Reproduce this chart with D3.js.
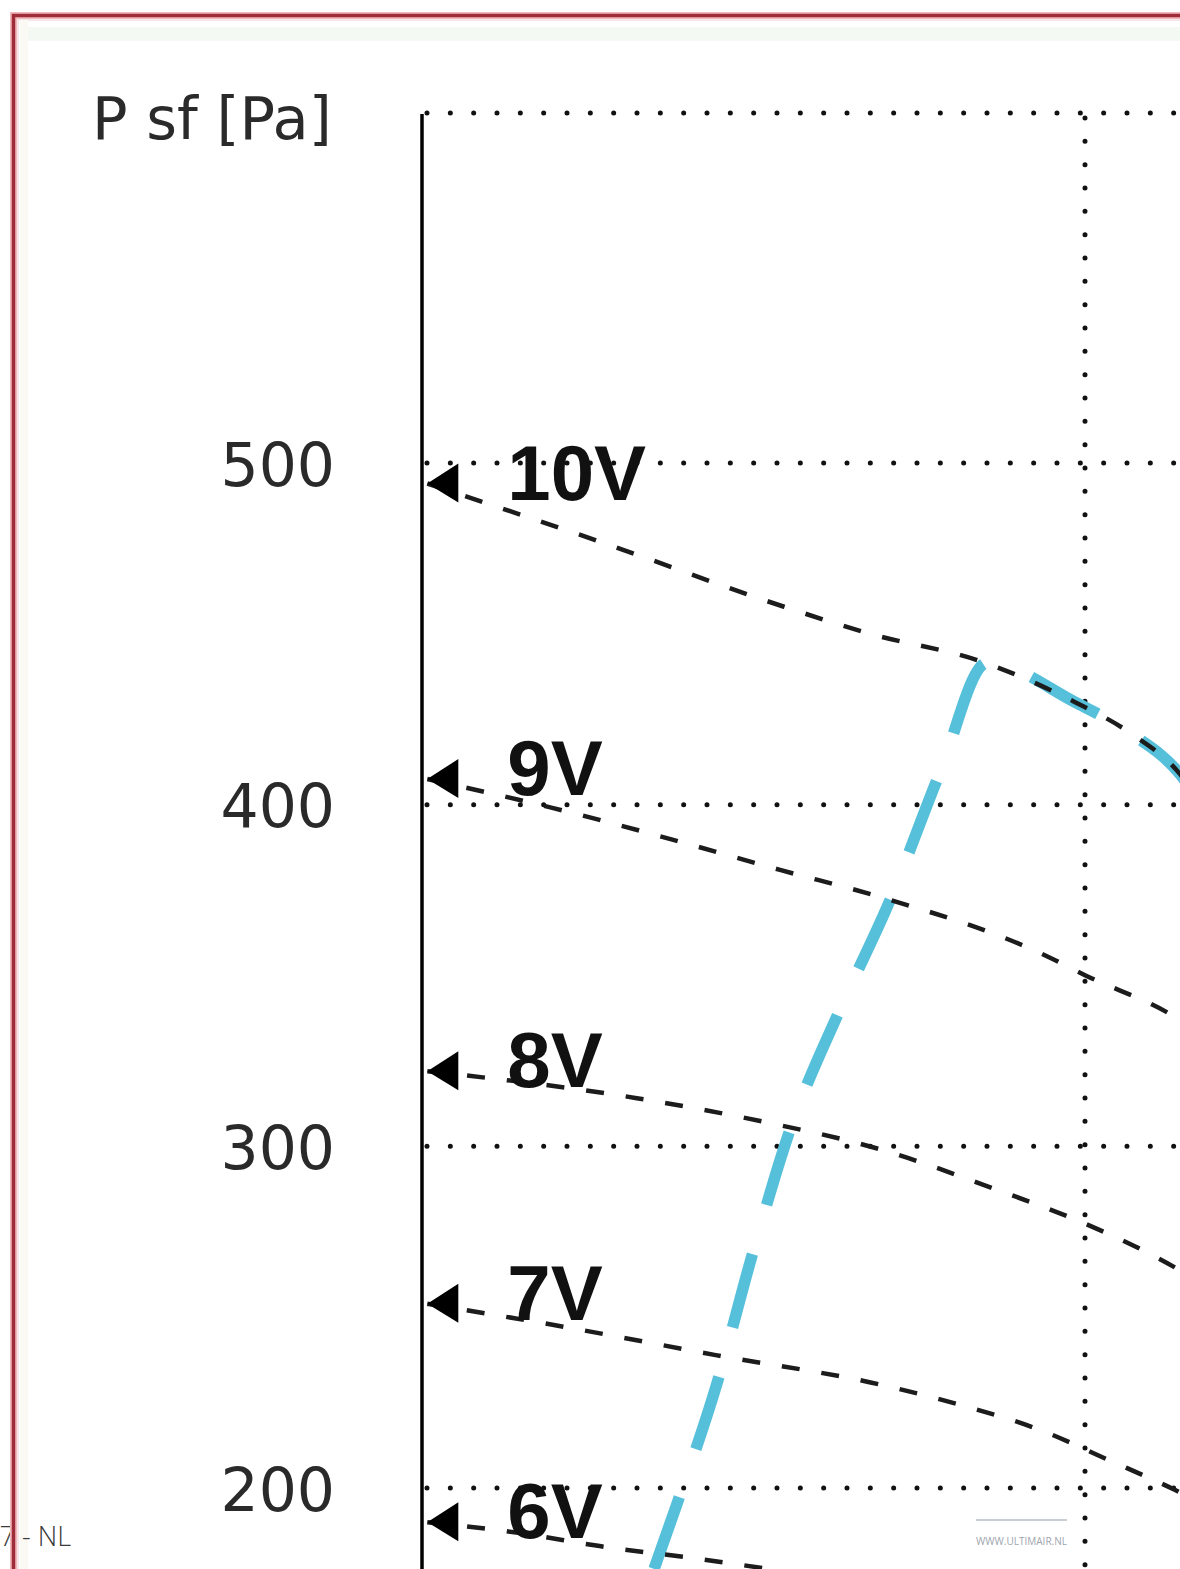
<!DOCTYPE html>
<html>
<head>
<meta charset="utf-8">
<script src="https://cdn.jsdelivr.net/npm/d3@7/dist/d3.min.js"></script>
<style>
  html, body { margin: 0; padding: 0; background: #ffffff; }
  svg { display: block; }
</style>
</head>
<body>
<svg id="chart" width="1180" height="1569"></svg>
<script>
// ---- data (flow in arbitrary units where the vertical grid line = 1000, pressure in Pa) ----
const pressureTicks = [200, 300, 400, 500];
const flowGrid = [1000];
const yAxisTitle = "P sf [Pa]";
const voltageLabels = ["10V", "9V", "8V", "7V", "6V"];

const curve10V = [[8, 494], [268, 477], [545, 458], [676, 450], [842, 442], [985, 430], [1068, 421], [1143, 409], [1166, 403]];
const curve9V  = [[8, 407.5], [198, 399], [379, 389.7], [540, 380.9], [691, 373], [932, 356.6], [1000, 350.1], [1143, 337], [1166, 334]];
const curve8V  = [[8, 322], [324, 314.1], [510, 307.4], [695, 298.9], [864, 287.5], [980, 279], [1086, 269.7], [1137, 264.4], [1166, 260.9]];
const curve7V  = [[8, 253.9], [199, 247.7], [443, 238.9], [688, 230.4], [807, 224.6], [928, 217.3], [1039, 207.9], [1136, 199.4], [1166, 196.5]];
const curve6V  = [[8, 190], [148, 186.8], [268, 183], [419, 179.2], [555, 175.4]];

const systemCurve = [[344, 173], [385, 195.6], [445, 230.7], [498, 268.2], [555, 304.8], [630, 339.9], [706, 372.1], [781, 409.3], [852, 441.5]];

const footerLeft = "7 - NL";
const footerRight = "WWW.ULTIMAIR.NL";

// ---- drawing ----
const svg = d3.select("#chart");
const W = 1180, H = 1569;
const plotTop = 113, plotLeft = 422, plotRight = W + 20, plotBottom = H + 40;

const x = d3.scaleLinear().domain([0, 1000]).range([422, 1085]);
const y = d3.scaleLinear().domain([200, 500]).range([1488, 463]);

// faint page frame
svg.append("rect").attr("x", 18).attr("y", 20).attr("width", 2000).attr("height", 2000)
  .attr("fill", "none").attr("stroke", "#f6e6e8").attr("stroke-width", 2);
svg.append("line").attr("x1", 20).attr("x2", W).attr("y1", 34).attr("y2", 34)
  .attr("stroke", "#f4f9f3").attr("stroke-width", 14);
svg.append("line").attr("x1", 24).attr("x2", 24).attr("y1", 20).attr("y2", H)
  .attr("stroke", "#fbf9f4").attr("stroke-width", 8);

// dotted grid
const dotStyle = sel => sel.attr("fill", "none").attr("stroke", "#111")
  .attr("stroke-width", 5).attr("stroke-linecap", "round")
  .attr("stroke-dasharray", "0 23.333").attr("stroke-dashoffset", -5);

// top frame line
svg.append("path").attr("d", `M${plotLeft},${plotTop}H${plotRight}`).call(dotStyle);
// horizontal grid
svg.append("g").selectAll("path").data(pressureTicks).join("path")
  .attr("d", d => `M${plotLeft},${y(d)}H${plotRight}`).call(dotStyle);
// vertical grid
svg.append("g").selectAll("path").data(flowGrid).join("path")
  .attr("d", d => `M${x(d)},${plotTop}V${plotBottom}`).call(dotStyle);

// y axis labels
const axis = d3.axisLeft(y).tickValues(pressureTicks).tickSize(0).tickPadding(87);
const gAxis = svg.append("g").attr("transform", `translate(${plotLeft},0)`).call(axis);
gAxis.select(".domain").remove();
gAxis.selectAll("text")
  .attr("dy", "0.37em")
  .attr("font-family", "DejaVu Sans, Verdana, sans-serif")
  .attr("font-size", 60)
  .attr("fill", "#2a2a2a");

svg.append("text").attr("x", 92).attr("y", 139)
  .attr("font-family", "DejaVu Sans, Verdana, sans-serif")
  .attr("font-size", 59).attr("fill", "#2a2a2a")
  .text(yAxisTitle);

// axis line
svg.append("line").attr("x1", plotLeft).attr("x2", plotLeft)
  .attr("y1", plotTop + 1).attr("y2", plotBottom)
  .attr("stroke", "#000").attr("stroke-width", 3.5);

const line = d3.line().x(d => x(d[0])).y(d => y(d[1])).curve(d3.curveMonotoneX);

// operating (blue) curve: system curve up to 10V, then along 10V
const peakX = systemCurve[systemCurve.length - 1][0];
const operating = systemCurve.concat(curve10V.filter(d => d[0] > peakX));
svg.append("path").attr("d", line(operating))
  .attr("fill", "none").attr("stroke", "#56c0db")
  .attr("stroke-width", 11.5).attr("stroke-dasharray", "76 51")
  .attr("stroke-dashoffset", -12);

// fan curves
const fanCurves = [curve10V, curve9V, curve8V, curve7V, curve6V];
const gFans = svg.append("g");
gFans.selectAll("path").data(fanCurves).join("path")
  .attr("d", d => line(d))
  .attr("fill", "none").attr("stroke", "#1c1c1c")
  .attr("stroke-width", 4.5).attr("stroke-dasharray", "18 22");

// start arrows
gFans.selectAll("path.arrow").data(fanCurves).join("path").attr("class", "arrow")
  .attr("d", d => {
    const px = x(d[0][0]), py = y(d[0][1]);
    return `M${px},${py}L${px + 31},${py - 20}L${px + 31},${py + 19}Z`;
  })
  .attr("fill", "#000");

// voltage labels
svg.append("g").selectAll("text").data(fanCurves).join("text")
  .attr("x", d => x(d[0][0]) + 80)
  .attr("y", d => y(d[0][1]) + 16)
  .attr("font-family", "Liberation Sans, Arial, sans-serif")
  .attr("font-weight", "bold")
  .attr("font-size", 78)
  .attr("fill", "#111")
  .text((d, i) => voltageLabels[i]);

// footer
svg.append("text").attr("x", 71).attr("y", 1546)
  .attr("text-anchor", "end")
  .attr("font-family", "Open Sans, sans-serif").attr("font-weight", 300)
  .attr("font-size", 27).attr("fill", "#3a3a3a")
  .text(footerLeft);

svg.append("line").attr("x1", 976).attr("x2", 1067).attr("y1", 1520).attr("y2", 1520)
  .attr("stroke", "#b9bfc7").attr("stroke-width", 1.5);
svg.append("text").attr("x", 976).attr("y", 1545)
  .attr("font-family", "Open Sans, sans-serif")
  .attr("font-size", 10).attr("fill", "#9ea5ae")
  .attr("textLength", 91).attr("lengthAdjust", "spacingAndGlyphs")
  .text(footerRight);

// red outer frame (drawn on top)
svg.append("path").attr("d", `M13.5,${H + 10}V15.5H${W + 10}`)
  .attr("fill", "none").attr("stroke", "#f2b9bd").attr("stroke-width", 7);
svg.append("path").attr("d", `M13.5,${H + 10}V15.5H${W + 10}`)
  .attr("fill", "none").attr("stroke", "#9e2c39").attr("stroke-width", 3.5);
</script>
</body>
</html>
